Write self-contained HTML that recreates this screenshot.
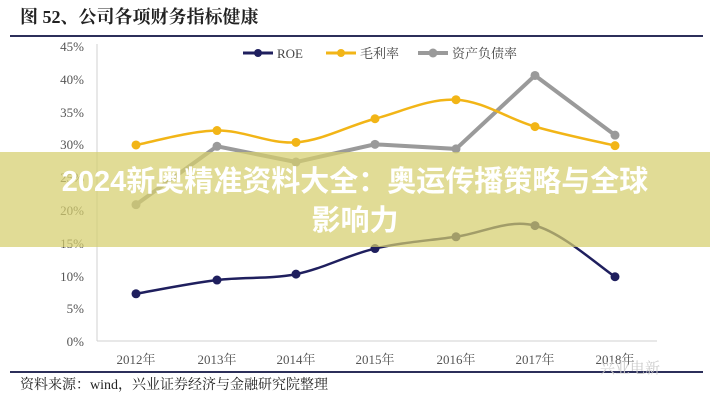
<!DOCTYPE html>
<html><head><meta charset="utf-8"><style>
body{margin:0;width:710px;height:400px;background:#fff;overflow:hidden;position:relative;font-family:"Liberation Serif","Noto Serif CJK SC",serif}
.band{position:absolute;left:0;top:152px;width:710px;height:95px;background:rgba(214,206,110,0.72)}
.bt{position:absolute;left:0;top:163px;width:710px;text-align:center;color:#fff;font:bold 29px/39px "Liberation Sans","Noto Sans CJK SC",sans-serif;letter-spacing:0px}
</style></head><body>
<svg width="710" height="400" style="position:absolute;left:0;top:0" font-family="Liberation Serif, Noto Serif CJK SC, serif">
<text x="20" y="23" font-size="18" font-weight="bold" fill="#222">图 52、公司各项财务指标健康</text>
<line x1="10" y1="36" x2="703" y2="36" stroke="#2c2f5a" stroke-width="2"/>
<line x1="97" y1="44" x2="97" y2="341" stroke="#d0d0d0"/>
<line x1="97" y1="341" x2="657" y2="341" stroke="#d0d0d0"/>
<g font-size="13" fill="#555" text-anchor="end">
<text x="84" y="51">45%</text><text x="84" y="84">40%</text><text x="84" y="117">35%</text><text x="84" y="149">30%</text><text x="84" y="182">25%</text><text x="84" y="215">20%</text><text x="84" y="248">15%</text><text x="84" y="281">10%</text><text x="84" y="313">5%</text><text x="84" y="346">0%</text>
</g>
<g font-size="13" fill="#555" text-anchor="middle">
<text x="136" y="364">2012年</text><text x="217" y="364">2013年</text><text x="296" y="364">2014年</text><text x="375" y="364">2015年</text><text x="456" y="364">2016年</text><text x="535" y="364">2017年</text><text x="615" y="364">2018年</text>
</g>
<g font-size="13" fill="#444">
<line x1="243" y1="53" x2="273" y2="53" stroke="#1f1f5e" stroke-width="3"/><circle cx="258" cy="53" r="4" fill="#1f1f5e"/><text x="277" y="58">ROE</text>
<line x1="326" y1="53" x2="356" y2="53" stroke="#f2b517" stroke-width="3"/><circle cx="341" cy="53" r="4" fill="#f2b517"/><text x="360" y="58">毛利率</text>
<line x1="418" y1="53" x2="448" y2="53" stroke="#9a9a9a" stroke-width="4"/><circle cx="433" cy="53" r="4.5" fill="#9a9a9a"/><text x="452" y="58">资产负债率</text>
</g>
<g id="series"></g>
<line x1="10" y1="372" x2="703" y2="372" stroke="#2c2f5a" stroke-width="2"/>
<text x="20" y="389" font-size="14" fill="#222">资料来源：wind，兴业证券经济与金融研究院整理</text>
<text x="600" y="373" font-size="15" fill="#ccc">兴业电新</text>
</svg>
<div class="band"></div>
<div class="bt">2024新奥精准资料大全：奥运传播策略与全球<br>影响力</div>
<script>
var xs=[136,217,296,375,456,535,615];
function y(v){return 341-v*6.556;}
var S=[
 {d:[20.8,29.7,27.3,30.0,29.3,40.5,31.4],c:"#9a9a9a",w:4,r:4.5,sm:false},
 {d:[29.9,32.1,30.3,33.9,36.8,32.7,29.8],c:"#f2b517",w:2.5,r:4.5,sm:true},
 {d:[7.2,9.3,10.2,14.1,15.9,17.6,9.8],c:"#1f1f5e",w:2.5,r:4.5,sm:true}];
var g=document.getElementById("series"),h="";
S.forEach(function(s){
 var p=xs.map(function(x,i){return [x,y(s.d[i])];});
 var d="M"+p[0][0]+","+p[0][1];
 for(var i=0;i<p.length-1;i++){
  if(!s.sm){d+=" L"+p[i+1][0]+","+p[i+1][1];continue;}
  var p0=p[i-1]||p[i],p1=p[i],p2=p[i+1],p3=p[i+2]||p2,t=0.17;
  d+=" C"+(p1[0]+(p2[0]-p0[0])*t)+","+(p1[1]+(p2[1]-p0[1])*t)+" "+(p2[0]-(p3[0]-p1[0])*t)+","+(p2[1]-(p3[1]-p1[1])*t)+" "+p2[0]+","+p2[1];
 }
 h+='<path d="'+d+'" fill="none" stroke="'+s.c+'" stroke-width="'+s.w+'"/>';
 p.forEach(function(q){h+='<circle cx="'+q[0]+'" cy="'+q[1]+'" r="'+s.r+'" fill="'+s.c+'"/>';});
});
g.innerHTML=h;
</script>
</body></html>
